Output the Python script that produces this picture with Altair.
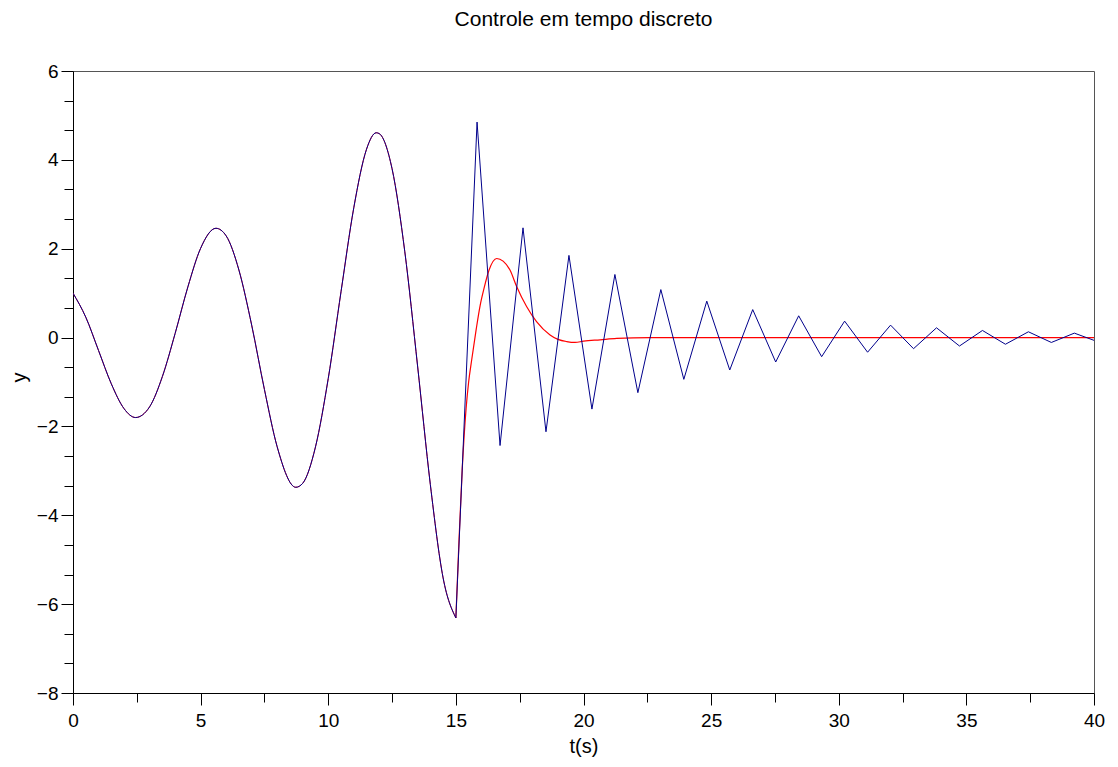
import altair as alt
import pandas as pd

# ---- data ----
# common (continuous) response before the controller switches at t = 15 s
t_smooth = [0, 0.5, 1.0, 1.5, 2.0, 2.45, 3.0, 3.5, 4.0, 4.5, 5.0, 5.6, 6.0, 6.5, 7.0,
            7.5, 8.0, 8.73, 9.0, 9.5, 10.0, 10.5, 11.0, 11.5, 11.88, 12.0, 12.5, 13.0,
            13.5, 14.0, 14.5, 15.0]
y_smooth = [1.00, 0.46, -0.29, -1.04, -1.60, -1.80, -1.56, -0.88, 0.09, 1.14, 2.01, 2.46,
            2.29, 1.52, 0.28, -1.17, -2.46, -3.37, -3.28, -2.46, -0.92, 1.03, 2.92, 4.24,
            4.61, 4.59, 3.80, 1.93, -0.64, -3.31, -5.41, -6.31]

# continuous-time controlled response (red) after t = 15 s
t_red = [15.0, 15.12, 15.25, 15.4, 15.5, 15.62, 15.8, 15.95, 16.1, 16.3, 16.6, 16.85,
         17.12, 17.38, 17.77, 18.16, 18.69, 19.0, 19.34, 19.67, 20.0, 20.65, 21.3, 22.6,
         25.0, 30.0, 35.0, 40.0]
y_red = [-6.31, -4.6, -2.95, -1.6, -1.0, -0.5, 0.2, 0.72, 1.1, 1.52, 1.78, 1.72,
         1.52, 1.15, 0.70, 0.36, 0.06, -0.04, -0.09, -0.11, -0.08, -0.05, -0.02, 0.0,
         0.0, 0.0, 0.0, 0.0]

# discrete-time controlled response (blue) after t = 15 s
t_blue = [15.0, 15.83, 16.73, 17.63, 18.53, 19.43, 20.33, 21.23, 22.13, 23.03, 23.93,
          24.83, 25.73, 26.63, 27.53, 28.43, 29.33, 30.23, 31.13, 32.03, 32.93, 33.83,
          34.73, 35.63, 36.53, 37.43, 38.33, 39.23, 40.13]
y_blue = [-6.31, 4.85, -2.43, 2.47, -2.12, 1.85, -1.61, 1.42, -1.24, 1.08, -0.94,
          0.82, -0.73, 0.63, -0.55, 0.49, -0.43, 0.37, -0.33, 0.28, -0.25, 0.22,
          -0.19, 0.16, -0.15, 0.13, -0.11, 0.10, -0.09]

x_major_ticks = [0, 5, 10, 15, 20, 25, 30, 35, 40]
x_minor_ticks = [2.5, 7.5, 12.5, 17.5, 22.5, 27.5, 32.5, 37.5]
y_major_ticks = [-8, -6, -4, -2, 0, 2, 4, 6]
y_minor_ticks = [-8 + 2 * k / 3 for k in range(1, 21) if k % 3 != 0]

TITLE = "Controle em tempo discreto"
FONT = "Liberation Sans"
RED = "#FF0000"
BLUE = "#00008B"

df_s = pd.DataFrame({"t": t_smooth, "y": y_smooth})
df_r = pd.DataFrame({"t": t_red, "y": y_red})
df_b = pd.DataFrame({"t": t_blue, "y": y_blue})

x_scale = alt.Scale(domain=[0, 40], nice=False, zero=False)
y_scale = alt.Scale(domain=[-8, 6], nice=False, zero=False)

x_major = alt.Axis(orient="bottom", values=x_major_ticks, format="d", tickSize=12,
                   tickColor="black", tickWidth=1, domainColor="black", domainWidth=1,
                   labelFont=FONT, labelFontSize=19, labelColor="black", labelPadding=6,
                   labelFlush=False, labelOverlap=False, grid=False,
                   title="t(s)", titleFont=FONT, titleFontSize=20,
                   titleFontWeight="normal", titleColor="black", titleX=510.5,
                   titleY=59, titleAlign="center", titleBaseline="alphabetic")
x_minor = alt.Axis(orient="bottom", values=x_minor_ticks, tickSize=9, tickColor="black",
                   tickWidth=1, labels=False, domain=False, grid=False, title="")
y_major = alt.Axis(orient="left", values=y_major_ticks, format="d", tickSize=12,
                   tickColor="black", tickWidth=1, domainColor="black", domainWidth=1,
                   labelFont=FONT, labelFontSize=19, labelColor="black", labelPadding=3,
                   labelFlush=False, labelOverlap=False, grid=False,
                   title="y", titleFont=FONT, titleFontSize=20, titleFontWeight="normal",
                   titleColor="black", titleAngle=270, titleX=-54, titleY=306,
                   titleAlign="center", titleBaseline="middle")
y_minor = alt.Axis(orient="left", values=y_minor_ticks, tickSize=9, tickColor="black",
                   tickWidth=1, labels=False, domain=False, grid=False, title="")

red_smooth = alt.Chart(df_s).mark_line(color=RED, strokeWidth=1, interpolate="monotone",
                                       clip=True).encode(
    x=alt.X("t:Q", scale=x_scale, axis=x_major),
    y=alt.Y("y:Q", scale=y_scale, axis=y_major),
)
red_after = alt.Chart(df_r).mark_line(color=RED, strokeWidth=1.2, interpolate="monotone",
                                      clip=True).encode(
    x=alt.X("t:Q", scale=x_scale, axis=x_minor),
    y=alt.Y("y:Q", scale=y_scale, axis=y_minor),
)
blue_smooth = alt.Chart(df_s).mark_line(color=BLUE, strokeWidth=1, interpolate="monotone",
                                        clip=True).encode(
    x=alt.X("t:Q", scale=x_scale, axis=None),
    y=alt.Y("y:Q", scale=y_scale, axis=None),
)
blue_after = alt.Chart(df_b).mark_line(color=BLUE, strokeWidth=1, interpolate="linear",
                                       clip=True).encode(
    x=alt.X("t:Q", scale=x_scale, axis=None),
    y=alt.Y("y:Q", scale=y_scale, axis=None),
)

chart = alt.layer(red_smooth, red_after, blue_smooth, blue_after).resolve_axis(
    x="independent", y="independent"
).properties(
    width=1021,
    height=622,
    title=alt.TitleParams(text=TITLE, font=FONT, fontSize=21, fontWeight="normal",
                          color="black", anchor="middle", frame="group", offset=15,
                          baseline="alphabetic"),
    padding={"left": 65, "top": 63, "right": 15, "bottom": 66},
    autosize=alt.AutoSizeParams(type="none"),
).configure_view(stroke="#555555", strokeWidth=1)

chart.save("out.html", embed_options={"renderer": "svg", "actions": False})
